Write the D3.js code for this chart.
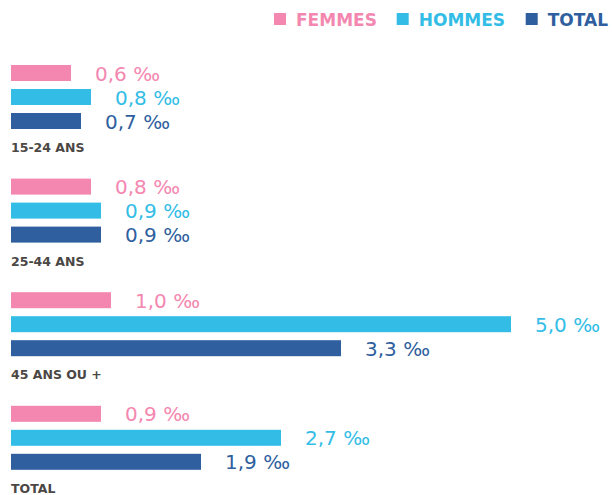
<!DOCTYPE html>
<html><head><meta charset="utf-8">
<script src="https://cdn.jsdelivr.net/npm/d3@7"></script>
<style>html,body{margin:0;padding:0;background:#fff;}svg{display:block;}</style>
</head><body>
<svg id="chart" width="612" height="495"></svg>
<script>
const categories = ["15-24 ANS", "25-44 ANS", "45 ANS OU +", "TOTAL"];
const series = ["FEMMES", "HOMMES", "TOTAL"];
const femmes = [0.6, 0.8, 1.0, 0.9];
const hommes = [0.8, 0.9, 5.0, 2.7];
const total = [0.7, 0.9, 3.3, 1.9];
const colors = ["#f487b0", "#33bde6", "#2f5f9e"];

const values = [femmes, hommes, total];
const svg = d3.select("#chart");
const fmt = v => d3.format(".1f")(v).replace(".", ",") + " \u2030";

const x = d3.scaleLinear().domain([0, 5]).range([11, 511]);
const yGroup = d3.scaleBand().domain(categories).range([65, 65 + 4 * 113.6]).paddingInner(0).paddingOuter(0);
const ySub = d3.scaleBand().domain(series).range([0, 64]).paddingInner(1 / 3).paddingOuter(0);
const color = d3.scaleOrdinal().domain(series).range(colors);

const rows = [];
categories.forEach((c, i) => series.forEach((s, j) => rows.push({cat: c, ser: s, v: values[j][i]})));

const g = svg.selectAll("g.grp").data(categories).join("g")
  .attr("class", "grp")
  .attr("transform", d => `translate(0,${yGroup(d)})`);

g.selectAll("rect").data(c => rows.filter(r => r.cat === c)).join("rect")
  .attr("x", x(0))
  .attr("y", d => ySub(d.ser))
  .attr("width", d => x(d.v) - x(0))
  .attr("height", ySub.bandwidth())
  .attr("fill", d => color(d.ser));

g.selectAll("text.val").data(c => rows.filter(r => r.cat === c)).join("text")
  .attr("class", "val")
  .attr("x", d => x(d.v) + 24)
  .attr("y", d => ySub(d.ser) + ySub.bandwidth() - 0.5)
  .attr("fill", d => color(d.ser))
  .style("font-family", "DejaVu Sans")
  .style("font-size", "20px")
  .text(d => fmt(d.v));

g.append("text")
  .attr("x", 11)
  .attr("y", 87)
  .attr("fill", "#4b4744")
  .style("font-family", "DejaVu Sans")
  .style("font-weight", "bold")
  .style("font-size", "12.5px")
  .text(d => d);

// legend
const legendX = [274, 396.7, 525.7];
const leg = svg.selectAll("g.leg").data(series).join("g")
  .attr("class", "leg")
  .attr("transform", (d, i) => `translate(${legendX[i]},13)`);
leg.append("rect").attr("width", 12).attr("height", 12).attr("fill", d => color(d));
leg.append("text")
  .attr("x", 22).attr("y", 13)
  .attr("fill", d => color(d))
  .style("font-family", "DejaVu Sans")
  .style("font-weight", "bold")
  .style("font-size", "17px")
  .text(d => d);
</script>
</body></html>
